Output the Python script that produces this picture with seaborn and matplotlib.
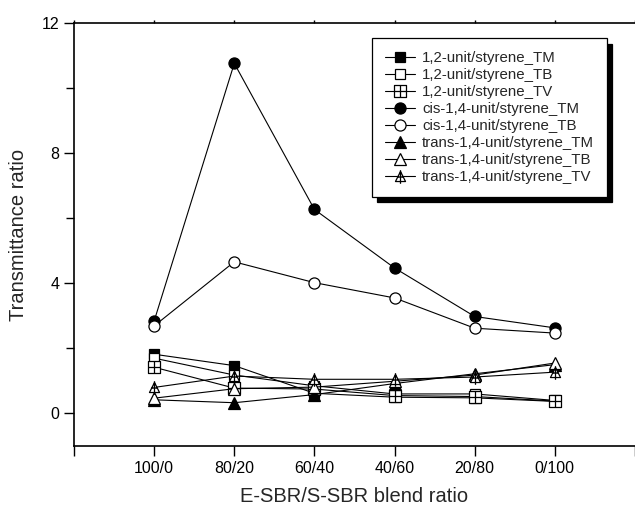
import numpy as np
import matplotlib
matplotlib.use("Agg")
import matplotlib.pyplot as plt
from matplotlib.path import Path
import seaborn as sns

sns.set_theme(style="ticks")
plt.rcParams['font.family'] = ['Liberation Sans', 'DejaVu Sans']

# data
ratios = ['100/0', '80/20', '60/40', '40/60', '20/80', '0/100']
vinyl_TM = [1.82, 1.47, 0.62, 0.50, 0.48, 0.37]
vinyl_TB = [1.70, 1.18, 0.85, 0.60, 0.60, 0.40]
vinyl_TV = [1.42, 0.78, 0.75, 0.55, 0.52, 0.38]
cis_TM = [2.84, 10.76, 6.27, 4.47, 2.98, 2.63]
cis_TB = [2.69, 4.66, 4.02, 3.55, 2.62, 2.47]
trans_TM = [0.42, 0.33, 0.58, 0.92, 1.22, 1.50]
trans_TB = [0.47, 0.76, 0.81, 0.99, 1.18, 1.55]
trans_TV = [0.80, 1.15, 1.05, 1.05, 1.12, 1.27]

# custom markers: square with cross, triangle with cross
M, L, C = Path.MOVETO, Path.LINETO, Path.CLOSEPOLY
sq_plus = Path([(-1, -1), (1, -1), (1, 1), (-1, 1), (-1, -1),
                (0, -1), (0, 1), (-1, 0), (1, 0)],
               [M, L, L, L, C, M, L, M, L])
tri_plus = Path([(0, 1), (-1, -1), (1, -1), (0, 1),
                 (0, -1.45), (0, 1.25), (-0.55, -0.1), (0.55, -0.1)],
                [M, L, L, C, M, L, M, L])

series = [
    ('1,2-unit/styrene_TM', vinyl_TM, 's', 'black', 7.2),
    ('1,2-unit/styrene_TB', vinyl_TB, 's', 'white', 7.2),
    ('1,2-unit/styrene_TV', vinyl_TV, sq_plus, 'white', 8.2),
    ('cis-1,4-unit/styrene_TM', cis_TM, 'o', 'black', 8),
    ('cis-1,4-unit/styrene_TB', cis_TB, 'o', 'white', 8),
    ('trans-1,4-unit/styrene_TM', trans_TM, '^', 'black', 8.5),
    ('trans-1,4-unit/styrene_TB', trans_TB, '^', 'white', 8.5),
    ('trans-1,4-unit/styrene_TV', trans_TV, tri_plus, 'white', 10.5),
]

fig = plt.figure(figsize=(6.35, 5.08), dpi=100)
ax = fig.add_axes([74 / 635, 1 - 446 / 508, 1 - 74 / 635, (446 - 23) / 508])

xpos = np.arange(len(ratios))
for name, vals, mk, fc, ms in series:
    sns.lineplot(x=xpos, y=vals, ax=ax, color='black', linewidth=0.8,
                 marker=mk, markersize=ms, markerfacecolor=fc,
                 markeredgecolor='black', markeredgewidth=0.9, label=name,
                 sort=False)

ax.set_xlim(-1, 6)
ax.set_ylim(-1, 12)
ax.set_xticks(np.arange(-1, 7))
ax.set_xticklabels([''] + ratios + [''])
ax.set_yticks([0, 4, 8, 12])
ax.set_yticks([2, 6, 10], minor=True)
ax.tick_params(axis='both', which='both', direction='out', length=7,
               width=1, labelsize=11.5, color='black', labelcolor='black')
ax.tick_params(axis='y', which='minor', length=6)
ax.xaxis.set_tick_params(which='major', top=True)
for t in ax.xaxis.get_major_ticks():
    t.tick2line.set_markersize(2)
ax.spines['right'].set_visible(False)
for s in ['left', 'bottom', 'top']:
    ax.spines[s].set_color('black')
    ax.spines[s].set_linewidth(1.2)

ax.set_xlabel('E-SBR/S-SBR blend ratio', fontsize=14.5, labelpad=8)
ax.set_ylabel('Transmittance ratio', fontsize=14.5, labelpad=10)

leg = ax.legend(loc='upper left', bbox_to_anchor=(0.531, 0.964),
                borderaxespad=0, fontsize=10.8, frameon=True, fancybox=False,
                framealpha=1, edgecolor='black', labelspacing=0.2,
                handlelength=2.0, handletextpad=0.5, borderpad=0.85,
                shadow={'ox': 3.8, 'oy': -3.8, 'facecolor': 'black',
                        'edgecolor': 'black', 'alpha': 1})
leg.get_frame().set_linewidth(0.9)

fig.savefig('out.png', dpi=100, facecolor='white')
